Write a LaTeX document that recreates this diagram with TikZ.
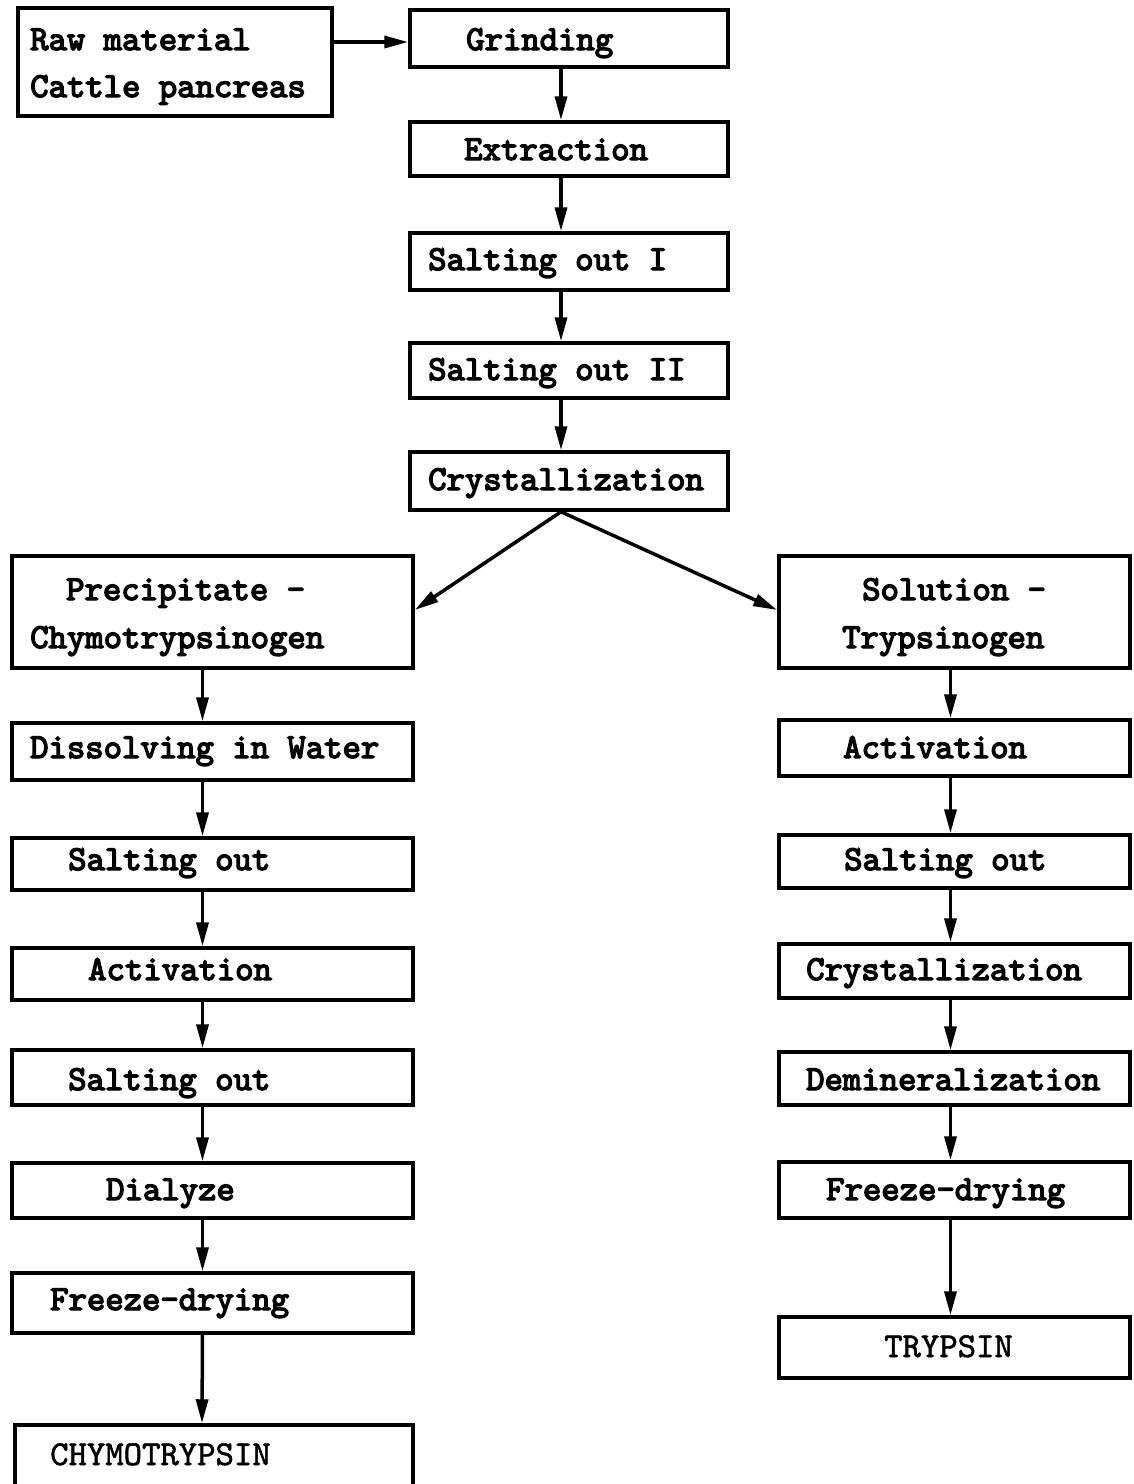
\documentclass[tikz,border=0pt]{standalone}
\usepackage{fontspec}
\newfontfamily\twb[FakeBold=4]{lmmono10-regular.otf}
\newfontfamily\twr[FakeBold=1.5]{lmmono10-regular.otf}
\usetikzlibrary{arrows.meta,fit}
\begin{document}
\begin{tikzpicture}[x=1pt,y=-1pt,
  box/.style={draw,line width=3.5pt,inner sep=0pt,fit={#1}},
  lbl/.style={anchor=base west,inner sep=0pt,font=\fontsize{35}{40}\selectfont\twb},
  lblr/.style={anchor=base west,inner sep=0pt,font=\fontsize{35}{40}\selectfont\twr},
  arr/.style={line width=3.5pt,-{Triangle[length=24pt,width=12pt]}}]
\useasboundingbox[fill=white] (0,0) rectangle (1134,1484);
% boxes
\node[box={(18,8) (332,116)}] (raw) {};
\node[box={(410,10) (728,67)}] (grind) {};
\node[box={(410,122) (728,176)}] (extr) {};
\node[box={(410,233) (728,290)}] (salt1) {};
\node[box={(410,343) (728,398)}] (salt2) {};
\node[box={(410,452) (728,510)}] (cryst) {};
\node[box={(12,556) (413,668)}] (prec) {};
\node[box={(779,556) (1130,668)}] (sol) {};
\node[box={(12,723) (413,780)}] (diss) {};
\node[box={(12,838) (413,890)}] (lsalt1) {};
\node[box={(12,948) (413,1000)}] (lact) {};
\node[box={(12,1050) (413,1105)}] (lsalt2) {};
\node[box={(12,1163) (413,1218)}] (dial) {};
\node[box={(12,1273) (413,1333)}] (lfreeze) {};
\node[box={(15,1425) (413,1490)}] (chymo) {};
\node[box={(779,720) (1130,776)}] (ract) {};
\node[box={(779,835) (1130,888)}] (rsalt) {};
\node[box={(779,944) (1130,998)}] (rcryst) {};
\node[box={(779,1052) (1130,1105)}] (demin) {};
\node[box={(779,1162) (1130,1218)}] (rfreeze) {};
\node[box={(779,1317) (1130,1378)}] (tryp) {};
% labels
\node[lbl] (t1) at (30,50) {Raw material};
\node[lbl] (t2) at (30,97) {Cattle pancreas};
\node[lbl] (t3) at (466,50) {Grinding};
\node[lbl] (t4) at (464,160) {Extraction};
\node[lbl] (t5) at (428,270) {Salting out I};
\node[lbl] (t6) at (428,380) {Salting out II};
\node[lbl] (t7) at (428,490) {Crystallization};
\node[lbl] (t8) at (66,600) {Precipitate -};
\node[lbl] (t9) at (30,648) {Chymotrypsinogen};
\node[lbl] (t10) at (862,600) {Solution -};
\node[lbl] (t11) at (842,648) {Trypsinogen};
\node[lbl] (t12) at (30,758) {Dissolving in Water};
\node[lbl] (t13) at (68,870) {Salting out};
\node[lbl] (t14) at (88,980) {Activation};
\node[lbl] (t15) at (68,1090) {Salting out};
\node[lbl] (t16) at (106,1200) {Dialyze};
\node[lbl] (t17) at (50,1310) {Freeze-drying};
\node[lblr] (t18) at (50,1465) {CHYMOTRYPSIN};
\node[lbl] (t19) at (843,758) {Activation};
\node[lbl] (t20) at (844,870) {Salting out};
\node[lbl] (t21) at (806,980) {Crystallization};
\node[lbl] (t22) at (806,1090) {Demineralization};
\node[lbl] (t23) at (826,1200) {Freeze-drying};
\node[lblr] (t24) at (884,1357) {TRYPSIN};
% arrows
\draw[arr] (raw.east |- 0,42) -- (grind.west |- 0,42);
\foreach \a/\b in {grind/extr,extr/salt1,salt1/salt2,salt2/cryst}
  \draw[arr] ([xshift=-8pt]\a.south) -- ([xshift=-8pt]\b.north);
\draw[arr] ([xshift=-8pt]cryst.south) -- (prec.east |- 0,610);
\draw[arr] ([xshift=-8pt]cryst.south) -- (sol.west |- 0,610);
\foreach \a/\b in {prec/diss,diss/lsalt1,lsalt1/lact,lact/lsalt2,lsalt2/dial,dial/lfreeze}
  \draw[arr] ([xshift=-10pt]\a.south) -- ([xshift=-10pt]\b.north);
\draw[arr] ([xshift=-10pt]lfreeze.south) -- ([xshift=-12pt]chymo.north);
\foreach \a/\b in {sol/ract,ract/rsalt,rsalt/rcryst,rcryst/demin,demin/rfreeze,rfreeze/tryp}
  \draw[arr] ([xshift=-4pt]\a.south) -- ([xshift=-4pt]\b.north);
\end{tikzpicture}
\end{document}
